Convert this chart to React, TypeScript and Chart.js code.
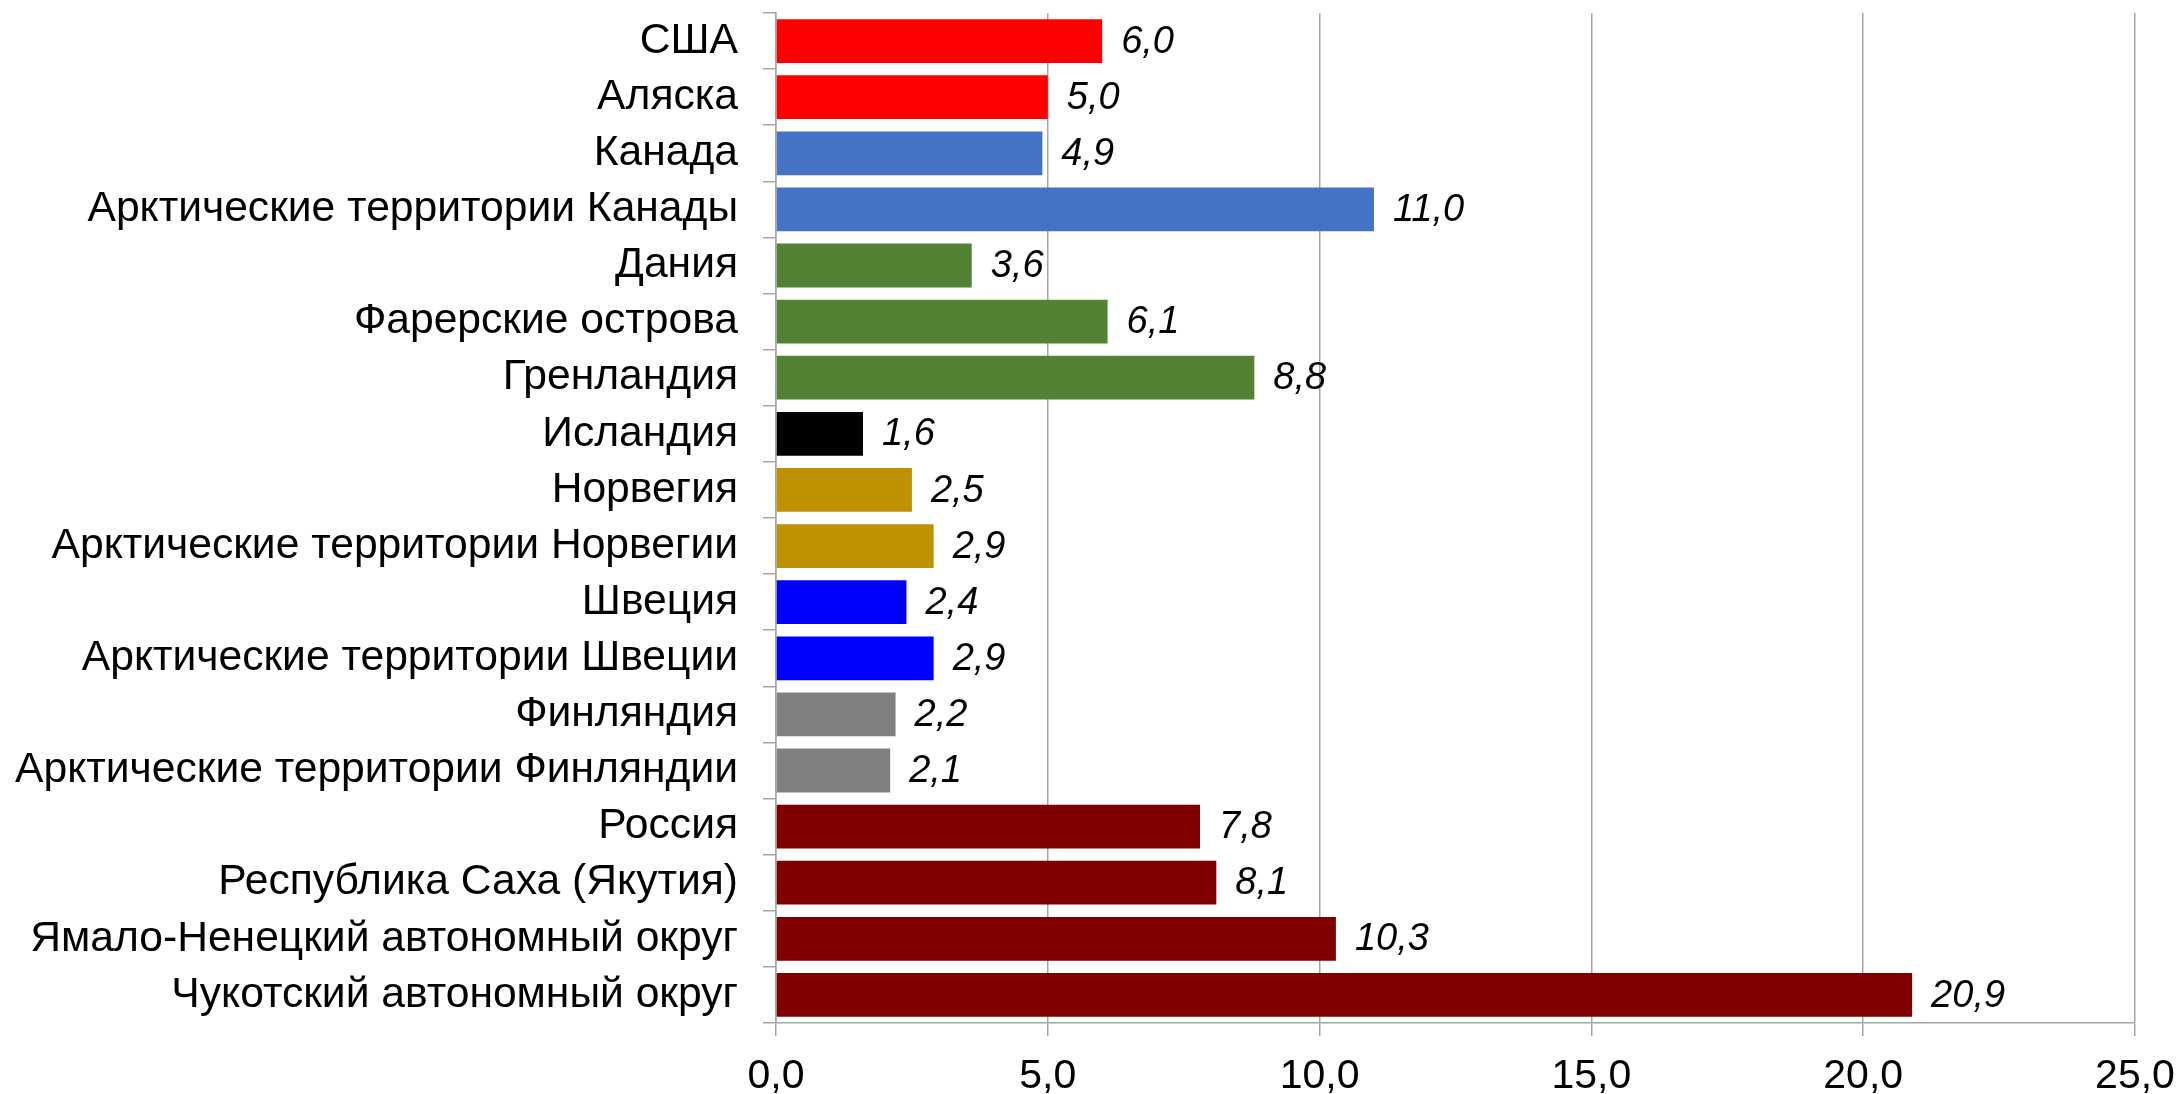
import React, { useEffect, useRef } from "react";
import { Chart, registerables } from "chart.js";

Chart.register(...registerables);

const categories = [
  "США",
  "Аляска",
  "Канада",
  "Арктические территории Канады",
  "Дания",
  "Фарерские острова",
  "Гренландия",
  "Исландия",
  "Норвегия",
  "Арктические территории Норвегии",
  "Швеция",
  "Арктические территории Швеции",
  "Финляндия",
  "Арктические территории Финляндии",
  "Россия",
  "Республика Саха (Якутия)",
  "Ямало-Ненецкий автономный округ",
  "Чукотский автономный округ",
];

const values = [6.0, 5.0, 4.9, 11.0, 3.6, 6.1, 8.8, 1.6, 2.5, 2.9, 2.4, 2.9, 2.2, 2.1, 7.8, 8.1, 10.3, 20.9];

const barColors = [
  "#FF0000", "#FF0000",
  "#4472C4", "#4472C4",
  "#548235", "#548235", "#548235",
  "#000000",
  "#BF9000", "#BF9000",
  "#0000FF", "#0000FF",
  "#808080", "#808080",
  "#800000", "#800000", "#800000", "#800000",
];

const xTicks = [0, 5, 10, 15, 20, 25];

const FONT = "'Liberation Sans', Arial, sans-serif";

const fmt = (v: number) => v.toFixed(1).replace(".", ",");

const valueLabelPlugin = {
  id: "valueLabels",
  afterDatasetsDraw(chart: any) {
    const ctx = chart.ctx;
    const meta = chart.getDatasetMeta(0);
    ctx.save();
    ctx.font = `italic 38px ${FONT}`;
    ctx.fillStyle = "#000";
    ctx.textAlign = "left";
    ctx.textBaseline = "middle";
    meta.data.forEach((bar: any, i: number) => {
      ctx.fillText(fmt(values[i]), bar.x + 19, bar.y + 1);
    });
    ctx.restore();
  },
};

export default function App() {
  const ref = useRef<HTMLCanvasElement | null>(null);
  useEffect(() => {
    if (!ref.current) return;
    const chart = new Chart(ref.current, {
      type: "bar",
      data: {
        labels: categories,
        datasets: [
          {
            data: values,
            backgroundColor: barColors,
            barPercentage: 0.78,
            categoryPercentage: 1,
          },
        ],
      },
      options: {
        indexAxis: "y",
        animation: false,
        responsive: false,
        maintainAspectRatio: false,
        layout: { padding: { top: 13, right: 46, bottom: 0, left: 0 } },
        plugins: { legend: { display: false }, tooltip: { enabled: false } },
        scales: {
          x: {
            min: 0,
            max: 25,
            afterBuildTicks: (scale: any) => {
              scale.ticks = xTicks.map((v) => ({ value: v }));
            },
            afterFit: (scale: any) => {
              scale.height = 71;
              scale.paddingLeft = 0;
              scale.paddingRight = 0;
            },
            grid: {
              color: "#a6a6a6",
              lineWidth: 1.5,
              tickLength: 13,
              drawTicks: true,
            },
            border: { color: "#a6a6a6", width: 1.5 },
            ticks: {
              color: "#000",
              font: { family: FONT, size: 41 },
              padding: 16,
              maxRotation: 0,
              callback: (v: any) => fmt(Number(v)),
            },
          },
          y: {
            afterFit: (scale: any) => {
              scale.width = 776;
              scale.paddingTop = 0;
              scale.paddingBottom = 0;
            },
            grid: {
              display: true,
              drawOnChartArea: false,
              drawTicks: true,
              tickLength: 13,
              color: "#a6a6a6",
              lineWidth: 1.5,
              offset: true,
            },
            border: { color: "#a6a6a6", width: 1.5 },
            ticks: {
              color: "#000",
              font: { family: FONT, size: 42.6 },
              padding: 25,
              autoSkip: false,
            },
          },
        },
      },
      plugins: [valueLabelPlugin],
    });
    return () => chart.destroy();
  }, []);
  return (
    <div style={{ position: "absolute", left: 0, top: 0, width: 2181, height: 1094, background: "#fff" }}>
      <canvas ref={ref} width={2181} height={1094} style={{ display: "block", width: 2181, height: 1094 }} />
    </div>
  );
}
